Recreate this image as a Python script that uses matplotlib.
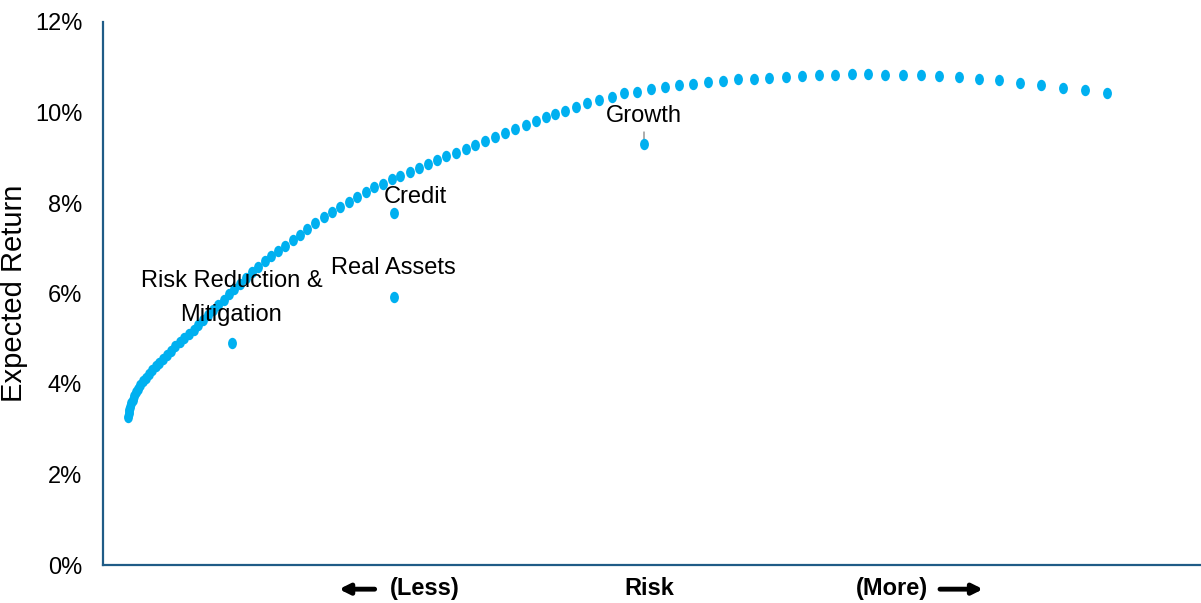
import matplotlib
matplotlib.use("Agg")
import matplotlib.pyplot as plt
from matplotlib import font_manager
from matplotlib.path import Path
from matplotlib.transforms import Affine2D
from matplotlib.ticker import FuncFormatter

# efficient frontier (risk in arbitrary vol units, return in %)
frontier_risk = [3.006, 3.017, 3.028, 3.040, 3.065, 3.092, 3.119, 3.152, 3.197, 3.244,
                 3.292, 3.351, 3.416, 3.484, 3.553, 3.625, 3.701, 3.780, 3.861, 3.945,
                 4.033, 4.125, 4.219, 4.315, 4.409, 4.505, 4.604, 4.704, 4.807, 4.912,
                 5.018, 5.127, 5.238, 5.354, 5.475, 5.599, 5.730, 5.864, 6.003, 6.148,
                 6.296, 6.441, 6.588, 6.746,
                 6.912, 7.078, 7.244, 7.412, 7.580, 7.750, 7.922, 8.096, 8.272, 8.450,
                 8.630, 8.812, 8.996, 9.182, 9.370, 9.560, 9.752, 9.946, 10.142, 10.340,
                 10.540, 10.744, 10.952, 11.164, 11.350, 11.540, 11.740, 11.960, 12.186, 12.420,
                 12.674, 12.920, 13.186, 13.454, 13.740, 14.020, 14.306, 14.606, 14.894, 15.206,
                 15.520, 15.826, 16.154, 16.480, 16.814, 17.140, 17.474, 17.800, 18.140, 18.494,
                 18.854, 19.226, 19.620, 20.020, 20.420, 20.840, 21.260, 21.694, 22.134, 22.574]
frontier_return = [3.28, 3.35, 3.42, 3.50, 3.57, 3.65, 3.73, 3.82, 3.90, 3.98,
                   4.06, 4.14, 4.22, 4.30, 4.39, 4.47, 4.56, 4.65, 4.74, 4.83,
                   4.92, 5.01, 5.11, 5.20, 5.31, 5.41, 5.52, 5.63, 5.75, 5.86,
                   5.98, 6.10, 6.22, 6.35, 6.47, 6.59, 6.71, 6.83, 6.95, 7.06,
                   7.18, 7.30, 7.43, 7.55,
                   7.68, 7.80, 7.92, 8.03, 8.14, 8.24, 8.35, 8.43, 8.52, 8.60,
                   8.69, 8.78, 8.86, 8.95, 9.03, 9.11, 9.20, 9.28, 9.37, 9.46,
                   9.55, 9.64, 9.73, 9.81, 9.89, 9.96, 10.04, 10.12, 10.20, 10.28,
                   10.35, 10.42, 10.46, 10.51, 10.56, 10.60, 10.63, 10.67, 10.70, 10.73,
                   10.75, 10.77, 10.79, 10.81, 10.82, 10.83, 10.84, 10.84, 10.83, 10.83,
                   10.82, 10.80, 10.78, 10.75, 10.71, 10.66, 10.61, 10.55, 10.49, 10.42]

# asset classes
asset_names = ["Risk Reduction &\nMitigation", "Real Assets", "Credit", "Growth"]
asset_risk = [5.07, 8.31, 8.31, 13.32]
asset_return = [4.90, 5.92, 7.79, 9.30]
# baseline of last label line, offset in pixels (dx, dy) from the point
label_offsets = [(0, 22), (0, 23), (22, 10), (0, 22)]

y_ticks = [0, 2, 4, 6, 8, 10, 12]

dot_color = "#00B0F0"
spine_color = "#1F5C87"

names = {f.name for f in font_manager.fontManager.ttflist}
if "Liberation Sans Narrow" in names:
    fam = ["Liberation Sans Narrow", "DejaVu Sans"]
    fs = 20
else:
    fam = ["Liberation Sans", "DejaVu Sans"]
    fs = 17
plt.rcParams["font.family"] = fam

# the original is squashed sideways, so dots are ellipses
oval = Path.unit_circle().transformed(Affine2D().scale(0.78, 1.0))

fig = plt.figure(figsize=(12.01, 6.03), dpi=100)
ax = fig.add_axes([103 / 1201, 38 / 603, 1098 / 1201, 543 / 603])

ax.plot(frontier_risk, frontier_return, linestyle="none", marker=oval,
        markersize=8.2, markerfacecolor=dot_color, markeredgewidth=0, zorder=4)
ax.plot(asset_risk, asset_return, linestyle="none", marker=oval,
        markersize=8.2, markerfacecolor=dot_color, markeredgewidth=0, zorder=4)

for i in range(len(asset_names)):
    dx, dy = label_offsets[i]
    ax.annotate(asset_names[i], (asset_risk[i], asset_return[i]),
                xytext=(dx, dy), textcoords="offset pixels",
                ha="center", va="baseline", fontsize=fs, color="black",
                linespacing=1.75, zorder=5)

# small leader line under the Growth label
g = asset_names.index("Growth")
ax.annotate("", (asset_risk[g], asset_return[g]), xytext=(0, 12), textcoords="offset pixels",
            arrowprops=dict(arrowstyle="-", color="#A6A6A6", lw=1.3, shrinkA=0, shrinkB=0),
            zorder=3)

ax.set_xlim(2.5, 24.46)
ax.set_ylim(0, 12)
ax.set_yticks(y_ticks)
ax.yaxis.set_major_formatter(FuncFormatter(lambda v, p: f"{v:.0f}%"))
ax.set_xticks([])
ax.tick_params(axis="y", length=0, pad=15, labelsize=fs)

for s in ["top", "right"]:
    ax.spines[s].set_visible(False)
for s in ["left", "bottom"]:
    ax.spines[s].set_color(spine_color)
    ax.spines[s].set_linewidth(1.6)

ax.set_ylabel("Expected Return", fontsize=21, family=["Liberation Sans", "DejaVu Sans"])
ax.yaxis.set_label_coords(-0.0683, 0.5)

# risk axis wording
ty = -0.044
ax.text(0.498, ty, "Risk", transform=ax.transAxes, ha="center", va="center",
        fontsize=fs, fontweight="bold")
ax.text(0.2933, ty, "(Less)", transform=ax.transAxes, ha="center", va="center",
        fontsize=fs, fontweight="bold")
ax.text(0.7181, ty, "(More)", transform=ax.transAxes, ha="center", va="center",
        fontsize=fs, fontweight="bold")
ax.annotate("", xy=(0.2150, -0.0445), xytext=(0.2474, -0.0445), xycoords="axes fraction",
            arrowprops=dict(arrowstyle="-|>", color="black", lw=3.5, mutation_scale=15,
                            shrinkA=0, shrinkB=0), annotation_clip=False)
ax.annotate("", xy=(0.8015, -0.0445), xytext=(0.7623, -0.0445), xycoords="axes fraction",
            arrowprops=dict(arrowstyle="-|>", color="black", lw=3.5, mutation_scale=15,
                            shrinkA=0, shrinkB=0), annotation_clip=False)

fig.savefig("out.png", dpi=100)
plt.close(fig)
